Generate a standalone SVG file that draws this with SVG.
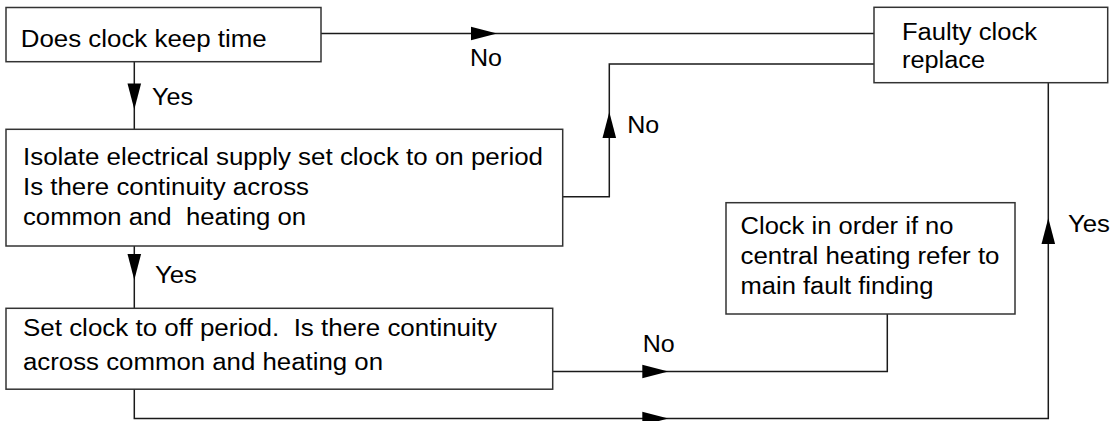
<svg xmlns="http://www.w3.org/2000/svg" xmlns:xlink="http://www.w3.org/1999/xlink" width="1115" height="421" viewBox="0 0 1115 421">
  <style>
    .box { fill: #ffffff; stroke: #333333; stroke-width: 1.5; }
    .line { fill: none; stroke: #1a1a1a; stroke-width: 1.5; }
    .head { fill: #000000; stroke: none; }
    text { font-family: "Liberation Sans", Arial, Helvetica, sans-serif; font-size: 23.5px; fill: #000000; }
  </style>
  <defs>
    <path id="ah" d="M0,0 L-26,-6.8 L-26,6.8 Z"/>
  </defs>
  <rect x="0" y="0" width="1115" height="421" fill="#ffffff"/>

  <g id="connectors">
    <path class="line" d="M321,33.5 H874"/>
    <path class="line" d="M562.7,196.7 H609.3 V64 H874"/>
    <path class="line" d="M134.3,61.7 V129.3"/>
    <path class="line" d="M134.3,246 V308.3"/>
    <path class="line" d="M552.7,371.5 H887.3 V314"/>
    <path class="line" d="M134.3,389 V418.5 H1048.3 V82.7"/>
    <use class="head" xlink:href="#ah" transform="translate(497,33.5)"/>
    <use class="head" xlink:href="#ah" transform="translate(134.3,109.5) rotate(90)"/>
    <use class="head" xlink:href="#ah" transform="translate(134.3,280) rotate(90)"/>
    <use class="head" xlink:href="#ah" transform="translate(609.3,112) rotate(-90)"/>
    <use class="head" xlink:href="#ah" transform="translate(668.3,371.5)"/>
    <use class="head" xlink:href="#ah" transform="translate(668.3,418.5)"/>
    <use class="head" xlink:href="#ah" transform="translate(1048.3,218) rotate(-90)"/>
    <text x="470" y="65.7" textLength="32" lengthAdjust="spacingAndGlyphs">No</text>
    <text x="152" y="105" textLength="41" lengthAdjust="spacingAndGlyphs">Yes</text>
    <text x="155" y="283" textLength="42" lengthAdjust="spacingAndGlyphs">Yes</text>
    <text x="627.3" y="132.7" textLength="32" lengthAdjust="spacingAndGlyphs">No</text>
    <text x="642.7" y="351.7" textLength="32" lengthAdjust="spacingAndGlyphs">No</text>
    <text x="1068" y="231.7" textLength="42" lengthAdjust="spacingAndGlyphs">Yes</text>
  </g>

  <g id="node-keep-time">
    <rect class="box" x="6" y="7.5" width="315" height="54.2"/>
    <text x="20.7" y="46.7" textLength="246" lengthAdjust="spacingAndGlyphs">Does clock keep time</text>
  </g>

  <g id="node-isolate">
    <rect class="box" x="6" y="129.3" width="556.7" height="116.7"/>
    <text x="23" y="165" textLength="520" lengthAdjust="spacingAndGlyphs">Isolate electrical supply set clock to on period</text>
    <text x="23" y="195" textLength="286" lengthAdjust="spacingAndGlyphs">Is there continuity across</text>
    <text x="23" y="225" textLength="283" lengthAdjust="spacingAndGlyphs" xml:space="preserve">common and  heating on</text>
  </g>

  <g id="node-off-period">
    <rect class="box" x="6" y="308.3" width="546.7" height="80.9"/>
    <text x="23" y="336" textLength="474" lengthAdjust="spacingAndGlyphs" xml:space="preserve">Set clock to off period.  Is there continuity</text>
    <text x="23" y="370" textLength="360" lengthAdjust="spacingAndGlyphs">across common and heating on</text>
  </g>

  <g id="node-faulty">
    <rect class="box" x="874" y="7.3" width="233.7" height="75.4"/>
    <text x="902" y="40" textLength="135" lengthAdjust="spacingAndGlyphs">Faulty clock</text>
    <text x="902" y="68" textLength="83" lengthAdjust="spacingAndGlyphs">replace</text>
  </g>

  <g id="node-in-order">
    <rect class="box" x="726" y="202.7" width="289" height="111.3"/>
    <text x="740.5" y="234" textLength="213" lengthAdjust="spacingAndGlyphs">Clock in order if no</text>
    <text x="740.5" y="264" textLength="259" lengthAdjust="spacingAndGlyphs">central heating refer to</text>
    <text x="740.5" y="294" textLength="193" lengthAdjust="spacingAndGlyphs">main fault finding</text>
  </g>
</svg>
